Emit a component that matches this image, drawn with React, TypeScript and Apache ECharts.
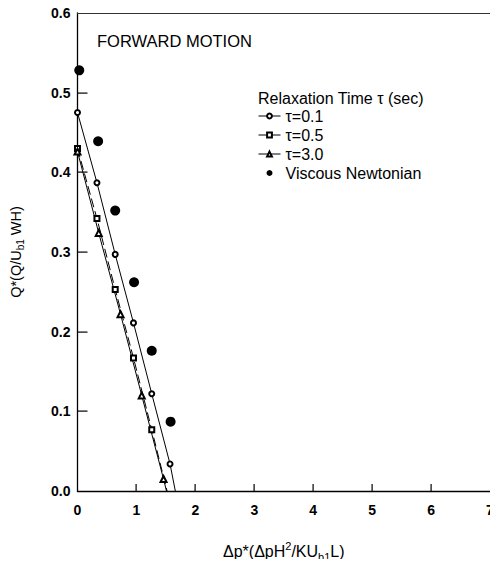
import React, { useEffect, useRef } from "react";
import * as echarts from "echarts";

const xTicks = [0, 1, 2, 3, 4, 5, 6, 7];
const yTicks = [0, 0.1, 0.2, 0.3, 0.4, 0.5, 0.6];

const tau01X = [0, 0.33, 0.64, 0.95, 1.26, 1.57];
const tau01Y = [0.475, 0.387, 0.297, 0.211, 0.122, 0.034];
const tau01End = [1.66, 0];

const tau05X = [0, 0.33, 0.64, 0.95, 1.26];
const tau05Y = [0.43, 0.342, 0.253, 0.167, 0.077];
const tau05End = [1.52, 0];

const tau30X = [0, 0.36, 0.73, 1.09, 1.46];
const tau30Y = [0.426, 0.324, 0.222, 0.12, 0.015];
const tau30End = [1.51, 0];

const newtonX = [0.03, 0.35, 0.64, 0.96, 1.26, 1.58];
const newtonY = [0.528, 0.439, 0.352, 0.262, 0.176, 0.087];

const seriesNames = ["τ=0.1", "τ=0.5", "τ=3.0", "Viscous Newtonian"];

const FONT = "'Liberation Sans', Arial, sans-serif";

function lineData(xs: number[], ys: number[], end: number[]) {
  const d: any[] = xs.map((x, i) => [x, ys[i]]);
  d.push({ value: end, symbol: "none" });
  return d;
}

const frameAxis = {
  type: "value",
  axisLine: { show: true, onZero: false, lineStyle: { color: "#333", width: 1 } },
  axisTick: { show: false },
  axisLabel: { show: false },
  splitLine: { show: false },
};

const textGraphics = [
  {
    id: "forward",
    type: "text",
    left: 97,
    top: 32,
    style: { text: "FORWARD MOTION", fontSize: 16.5, fill: "#000", fontFamily: FONT },
  },
  {
    id: "legendTitle",
    type: "text",
    left: 258,
    top: 90,
    style: { text: "Relaxation Time τ (sec)", fontSize: 16, fill: "#000", fontFamily: FONT },
  },
];

export default function App() {
  const ref = useRef<HTMLDivElement>(null);
  useEffect(() => {
    if (!ref.current) return;
    const chart = echarts.init(ref.current, undefined, { renderer: "svg" });
    chart.setOption({
      animation: false,
      backgroundColor: "#fff",
      textStyle: { fontFamily: FONT, color: "#000" },
      grid: { left: 76, right: 8, top: 13, bottom: 70 },
      xAxis: [
        {
          type: "value",
          min: xTicks[0],
          max: xTicks[xTicks.length - 1],
          interval: 1,
          position: "bottom",
          axisLine: { show: true, onZero: false, lineStyle: { color: "#000", width: 1.3 } },
          axisTick: { show: false },
          axisLabel: {
            fontSize: 14,
            fontWeight: "bold",
            color: "#000",
            margin: 12,
            fontFamily: FONT,
            showMaxLabel: true,
            formatter: (v: number) => String(v),
          },
          splitLine: { show: false },
          name: "{n|Δp*(ΔpH}{sup|2}{n|/KU}{sub|b1}{n|L)}",
          nameLocation: "middle",
          nameGap: 49,
          nameTextStyle: {
            fontFamily: FONT,
            rich: {
              n: { fontSize: 16, color: "#000", lineHeight: 22, fontFamily: FONT },
              sup: { fontSize: 11, color: "#000", verticalAlign: "top", lineHeight: 11, fontFamily: FONT },
              sub: { fontSize: 11, color: "#000", verticalAlign: "bottom", lineHeight: 11, fontFamily: FONT },
            },
          },
        },
        { ...frameAxis, position: "top", min: 0, max: 7 },
      ],
      yAxis: [
        {
          type: "value",
          min: yTicks[0],
          max: yTicks[yTicks.length - 1],
          interval: 0.1,
          position: "left",
          axisLine: { show: true, onZero: false, lineStyle: { color: "#000", width: 1.3 } },
          axisTick: { show: false },
          axisLabel: {
            fontSize: 14,
            fontWeight: "bold",
            color: "#000",
            margin: 7,
            fontFamily: FONT,
            formatter: (v: number) => v.toFixed(1),
          },
          splitLine: { show: false },
          name: "{n|Q*(Q/U}{sub|b1}{n| WH)}",
          nameLocation: "middle",
          nameGap: 52,
          nameRotate: 90,
          nameTextStyle: {
            fontFamily: FONT,
            rich: {
              n: { fontSize: 14.5, color: "#000", lineHeight: 20, fontFamily: FONT },
              sub: { fontSize: 10, color: "#000", verticalAlign: "bottom", lineHeight: 10, fontFamily: FONT },
            },
          },
        },
        { ...frameAxis, position: "right", min: 0, max: 0.6 },
      ],
      legend: {
        orient: "vertical",
        left: 258,
        top: 108,
        padding: 0,
        itemWidth: 22,
        itemHeight: 6,
        itemGap: 3,
        lineStyle: { width: 1 },
        textStyle: { fontSize: 16, color: "#000", fontFamily: FONT },
        data: seriesNames,
      },
      graphic: textGraphics,
      series: [
        {
          name: seriesNames[0],
          type: "line",
          data: lineData(tau01X, tau01Y, tau01End),
          symbol: "emptyCircle",
          symbolSize: 5,
          lineStyle: { color: "#000", width: 1 },
          itemStyle: { color: "#000", borderColor: "#000", borderWidth: 1 },
        },
        {
          name: seriesNames[1],
          type: "line",
          data: lineData(tau05X, tau05Y, tau05End),
          symbol: "emptyRect",
          symbolSize: 5,
          lineStyle: { color: "#000", width: 1, type: [9, 4] },
          itemStyle: { color: "#000", borderColor: "#000", borderWidth: 1 },
        },
        {
          name: seriesNames[2],
          type: "line",
          data: lineData(tau30X, tau30Y, tau30End),
          symbol: "emptyTriangle",
          symbolSize: 6,
          lineStyle: { color: "#000", width: 1 },
          itemStyle: { color: "#000", borderColor: "#000", borderWidth: 1 },
        },
        {
          name: seriesNames[3],
          type: "scatter",
          data: newtonX.map((x, i) => [x, newtonY[i]]),
          symbol: "circle",
          symbolSize: 10,
          itemStyle: { color: "#000", opacity: 1 },
        },
      ],
    });

    // Tick marks placed through the chart's own scales
    const tickGraphics: any[] = [];
    yTicks.slice(1, -1).forEach((v, i) => {
      const p = chart.convertToPixel({ xAxisIndex: 0, yAxisIndex: 0 }, [xTicks[0], v]) as number[];
      tickGraphics.push({
        id: "yt" + i,
        type: "rect",
        z: 100,
        shape: { x: p[0], y: Math.round(p[1]) - 0.5, width: 10, height: 1.2 },
        style: { fill: "#000" },
        silent: true,
      });
    });
    xTicks.slice(1, -1).forEach((v, i) => {
      const p = chart.convertToPixel({ xAxisIndex: 0, yAxisIndex: 0 }, [v, yTicks[0]]) as number[];
      tickGraphics.push({
        id: "xt" + i,
        type: "rect",
        z: 100,
        shape: { x: Math.round(p[0]) - 0.5, y: p[1] - 7, width: 1.2, height: 7 },
        style: { fill: "#000" },
        silent: true,
      });
    });
    chart.setOption({ graphic: [...textGraphics, ...tickGraphics] });

    return () => chart.dispose();
  }, []);
  return <div ref={ref} style={{ width: 498, height: 567, margin: -8 }} />;
}
